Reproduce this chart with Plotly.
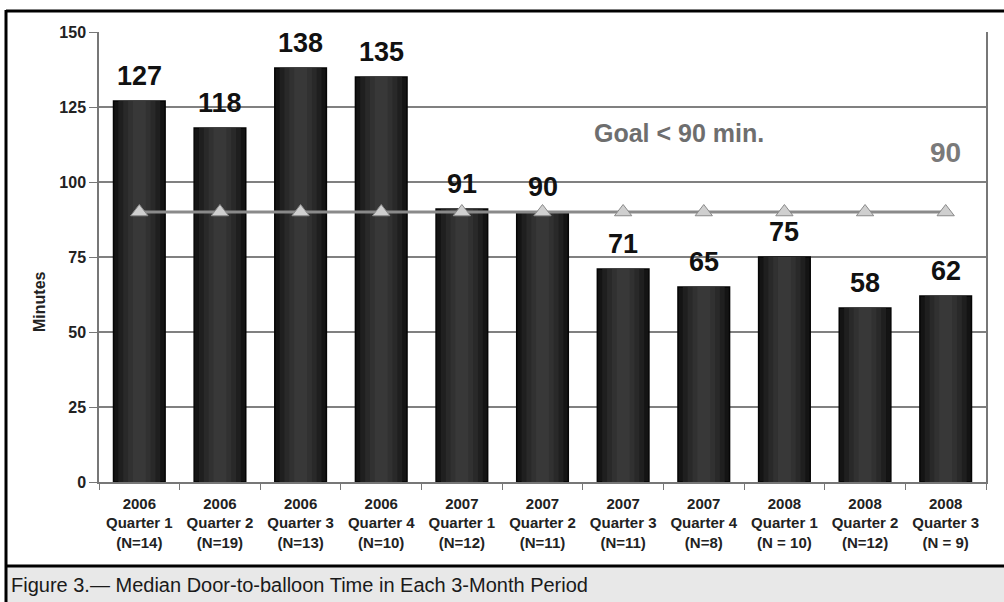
import plotly.graph_objects as go

categories = [
    "2006<br>Quarter 1<br>(N=14)", "2006<br>Quarter 2<br>(N=19)", "2006<br>Quarter 3<br>(N=13)",
    "2006<br>Quarter 4<br>(N=10)", "2007<br>Quarter 1<br>(N=12)", "2007<br>Quarter 2<br>(N=11)",
    "2007<br>Quarter 3<br>(N=11)", "2007<br>Quarter 4<br>(N=8)", "2008<br>Quarter 1<br>(N = 10)",
    "2008<br>Quarter 2<br>(N=12)", "2008<br>Quarter 3<br>(N = 9)",
]
median_minutes = [127, 118, 138, 135, 91, 90, 71, 65, 75, 58, 62]
goal_minutes = [90] * len(categories)
y_ticks = [0, 25, 50, 75, 100, 125, 150]

FONT = "Arial, Liberation Sans, sans-serif"

fig = go.Figure()

# cylindrical shading via stacked overlay bars of decreasing width
layers = [(0.64, "#141414", dict(color="#050505", width=1.5)),
          (0.52, "#1f1f1f", None),
          (0.40, "#292929", None),
          (0.28, "#313131", None),
          (0.16, "#383838", None)]
for w, col, ln in layers:
    fig.add_trace(go.Bar(
        x=categories, y=median_minutes, width=w,
        marker=dict(color=col, line=ln if ln else dict(width=0)),
        showlegend=False, hoverinfo="skip"))

fig.add_trace(go.Scatter(
    x=categories, y=goal_minutes, mode="lines+markers",
    line=dict(color="#8a8a8a", width=3),
    marker=dict(symbol="triangle-up", size=15, color="#cfcfcf",
                line=dict(color="#8a8a8a", width=1)),
    showlegend=False, hoverinfo="skip"))

for c, v in zip(categories, median_minutes):
    fig.add_annotation(x=c, y=v, text=f"<b>{v}</b>", showarrow=False,
                       yanchor="bottom", yshift=8,
                       font=dict(family=FONT, size=27, color="#111111"))

# frame and caption band
L, T, PW, PH, B = 99, 32, 887, 450, 482
def px(xp): return (xp - L) / PW
def py(yp): return (B - yp) / PH

fig.add_annotation(xref="paper", yref="paper", x=px(679), y=py(133), yanchor="middle",
                   text="<b>Goal &lt; 90 min.</b>",
                   showarrow=False, font=dict(family=FONT, size=25, color="#6e6e6e"))
fig.add_annotation(x=categories[-1], xref="x", yref="paper", y=py(152), yanchor="middle",
                   text=f"<b>{goal_minutes[-1]}</b>",
                   showarrow=False, font=dict(family=FONT, size=28, color="#7a7a7a"))
fig.add_annotation(xref="paper", yref="paper", x=px(39), y=py(302), xanchor="center",
                   yanchor="middle", textangle=-90, text="<b>Minutes</b>", showarrow=False,
                   font=dict(family=FONT, size=16, color="#222222"))

fig.add_shape(type="rect", xref="paper", yref="paper", x0=px(6), x1=px(1004),
              y0=py(602), y1=py(566), fillcolor="#e8e8e8", line=dict(width=0), layer="below")
fig.add_shape(type="line", xref="paper", yref="paper", x0=px(6), x1=px(1004),
              y0=py(566), y1=py(566), line=dict(color="#000000", width=3))
fig.add_shape(type="line", xref="paper", yref="paper", x0=px(6), x1=px(1004),
              y0=py(11), y1=py(11), line=dict(color="#000000", width=3))
fig.add_shape(type="line", xref="paper", yref="paper", x0=px(6), x1=px(6),
              y0=py(10), y1=py(602), line=dict(color="#000000", width=3))
fig.add_annotation(xref="paper", yref="paper", x=px(9), y=py(585), xanchor="left",
                   yanchor="middle",
                   text="Figure 3.— Median Door-to-balloon Time in Each 3-Month Period",
                   showarrow=False, font=dict(family=FONT, size=20, color="#1a1a1a"))

fig.update_layout(
    width=1004, height=602,
    margin=dict(l=L, r=1004 - L - PW, t=T, b=602 - B),
    paper_bgcolor="white", plot_bgcolor="white",
    barmode="overlay",
    font=dict(family=FONT, color="#222222"),
    xaxis=dict(type="category", showline=True, linecolor="#777777", linewidth=1.5,
               ticks="outside", tickson="boundaries", ticklen=6, tickcolor="#777777",
               tickfont=dict(family=FONT, size=15, color="#222222"),
               ticklabelstandoff=7,
               showgrid=False, range=[-0.5, 10.5]),
    yaxis=dict(range=[0, 150], tickvals=y_ticks, ticktext=[f"<b>{t}</b>" for t in y_ticks],
               showline=True, mirror=True,
               linecolor="#777777", linewidth=1.5, ticks="outside", ticklen=8,
               tickcolor="#777777", showgrid=True, gridcolor="#808080", gridwidth=1.5,
               tickfont=dict(family=FONT, size=16, color="#222222"),
               zeroline=False),
)
fig.update_xaxes(ticktext=[f"<b>{c}</b>" for c in categories], tickvals=categories)

fig.write_html("out.html", config={"displayModeBar": False},
               post_script="document.body.style.margin='0';document.body.style.overflow='hidden';")
